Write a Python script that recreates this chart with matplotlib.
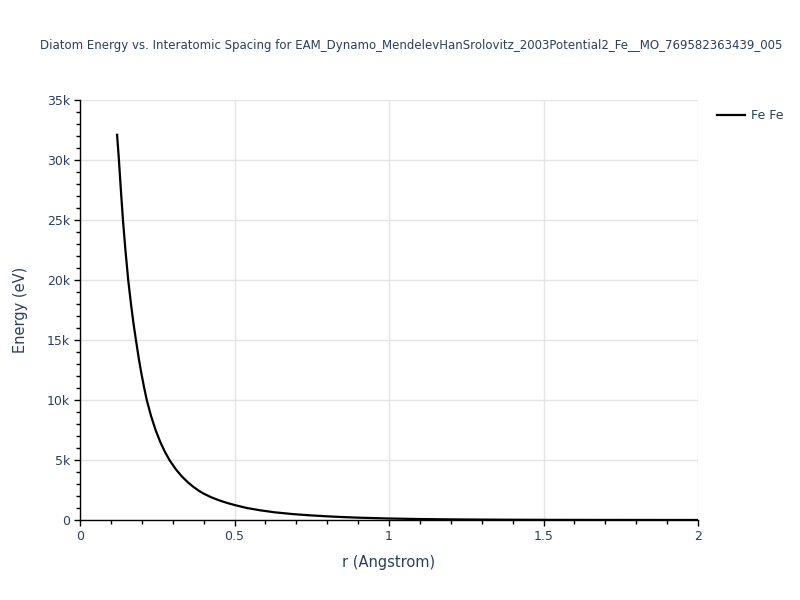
import matplotlib
matplotlib.use('Agg')
import matplotlib.pyplot as plt
from matplotlib.ticker import FuncFormatter, MultipleLocator


# values
r_vals = [0.120, 0.126, 0.132, 0.139, 0.147, 0.156, 0.165, 0.173, 0.181,
          0.190, 0.198, 0.207, 0.216, 0.230, 0.245, 0.260, 0.275, 0.290,
          0.310, 0.330, 0.350, 0.367, 0.385, 0.400, 0.425, 0.450, 0.475,
          0.500, 0.540, 0.583, 0.630, 0.690, 0.740, 0.800, 0.850, 0.900,
          1.000, 1.100, 1.200, 1.300, 1.400, 1.500, 1.600, 1.700, 1.800,
          1.900, 2.000]
energy = [32100, 30000, 27600, 25000, 22500, 20000, 18000, 16400, 15000,
          13500, 12300, 11100, 10000, 8660, 7470, 6490, 5670, 4980,
          4230, 3620, 3120, 2760, 2430, 2200, 1890, 1640, 1430,
          1250, 1000, 810, 640, 490, 395, 305, 245, 195,
          125, 80, 52, 34, 22, 14, 9, 6, 4,
          2.5, 1.5]
series_name = 'Fe Fe'
title = ('Diatom Energy vs. Interatomic Spacing for '
         'EAM_Dynamo_MendelevHanSrolovitz_2003Potential2_Fe__MO_769582363439_005')

text_col = '#2a3f5f'
grid_col = '#e5e5e5'

fig = plt.figure(figsize=(8, 6), dpi=100)
ax = fig.add_axes([0.1, 80 / 600, 618 / 800, 420 / 600])

ax.plot(r_vals, energy, color='black', lw=1.6, label=series_name)

ax.set_xlim(0, 2)
ax.set_ylim(0, 35000)
ax.xaxis.set_major_locator(MultipleLocator(0.5))
ax.xaxis.set_minor_locator(MultipleLocator(0.1))
ax.yaxis.set_major_locator(MultipleLocator(5000))
ax.yaxis.set_minor_locator(MultipleLocator(1000))
ax.xaxis.set_major_formatter(FuncFormatter(lambda v, p: f'{v:g}'))
ax.yaxis.set_major_formatter(
    FuncFormatter(lambda v, p: '0' if v == 0 else f'{v / 1000:g}k'))

ax.grid(True, which='major', color=grid_col, lw=1)
ax.set_axisbelow(True)
for side in ['top', 'right']:
    ax.spines[side].set_visible(False)
for side in ['left', 'bottom']:
    ax.spines[side].set_color('black')
    ax.spines[side].set_linewidth(1)

ax.tick_params(which='major', length=4, width=1, color='black',
               labelsize=9, labelcolor=text_col, pad=3)
ax.tick_params(which='minor', length=3, width=1, color='black')

ax.set_xlabel('r (Angstrom)', fontsize=10.5, color=text_col, labelpad=9)
ax.set_ylabel('Energy (eV)', fontsize=10.5, color=text_col, labelpad=14)

fig.text(40 / 800, 1 - 46 / 600, title, fontsize=8.5, color=text_col,
         va='center', ha='left')

fig.legend(loc='upper left', bbox_to_anchor=(706 / 800, 1 - 98 / 600),
           frameon=False, fontsize=9, labelcolor=text_col,
           handlelength=2.2, handletextpad=0.5)

fig.savefig('out.png', dpi=100)
